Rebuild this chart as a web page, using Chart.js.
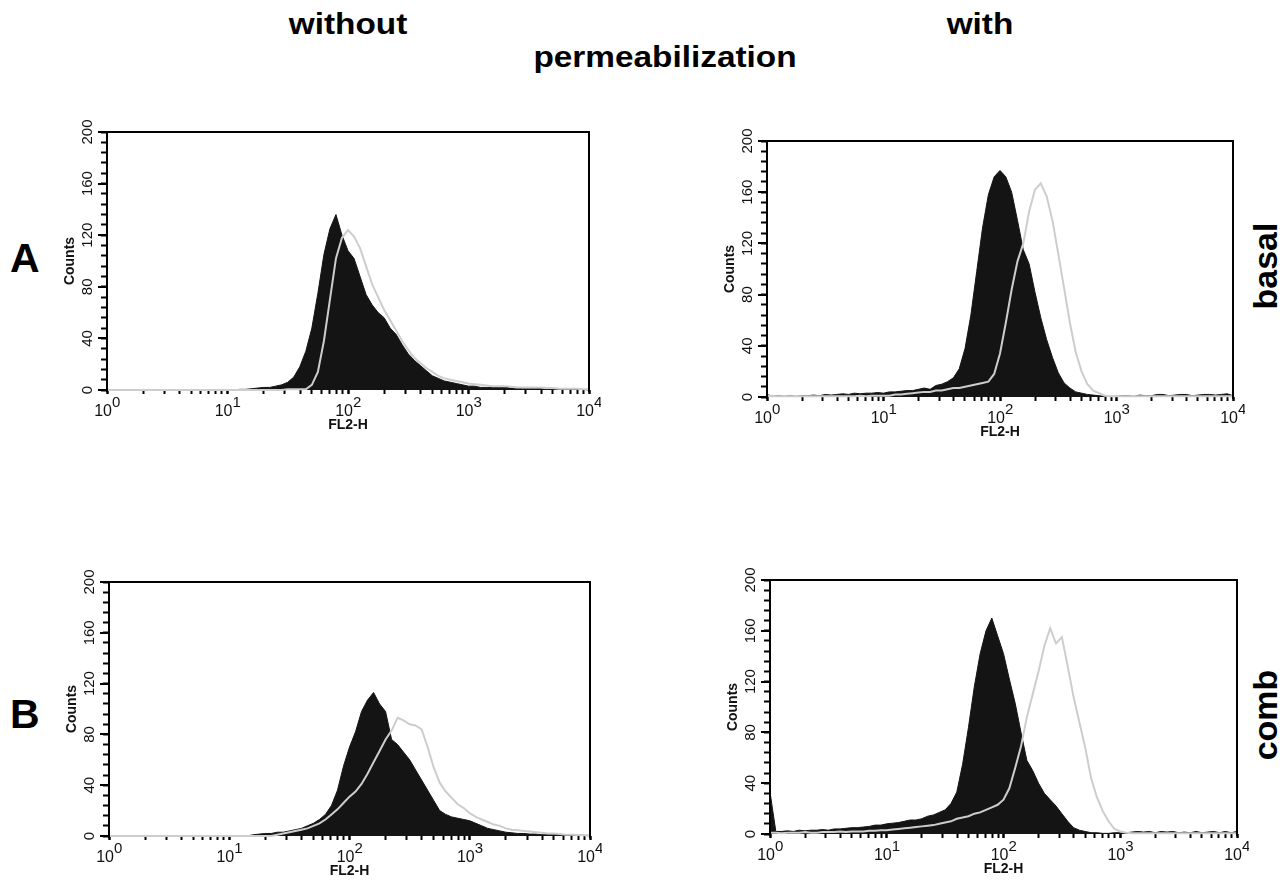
<!DOCTYPE html>
<html>
<head>
<meta charset="utf-8">
<script src="https://cdn.jsdelivr.net/npm/chart.js@4.4.1/dist/chart.umd.min.js"></script>
<style>
  body { margin: 0; background: #fff; width: 1284px; height: 880px; position: relative; overflow: hidden;
         font-family: "Liberation Sans", Arial, sans-serif; }
  .txt { position: absolute; font-weight: bold; color: #000; white-space: nowrap; line-height: 1; }
  .box { position: absolute; }
</style>
</head>
<body>

<div class="txt" style="left:348px; top:10px; font-size:29px; transform:translateX(-50%) scaleX(1.15);">without</div>
<div class="txt" style="left:980px; top:10px; font-size:29px; transform:translateX(-50%) scaleX(1.15);">with</div>
<div class="txt" style="left:665px; top:43px; font-size:29px; transform:translateX(-50%) scaleX(1.15);">permeabilization</div>
<div class="txt" style="left:10px; top:238px; font-size:41px;">A</div>
<div class="txt" style="left:10px; top:694px; font-size:41px;">B</div>
<div class="txt" style="left:1265px; top:266px; font-size:34px; transform:translate(-50%,-50%) rotate(-90deg);">basal</div>
<div class="txt" style="left:1265px; top:715px; font-size:34px; transform:translate(-50%,-50%) rotate(-90deg);">comb</div>

<div class="box" id="box-tl"><canvas id="tl"></canvas></div>
<div class="box" id="box-tr"><canvas id="tr"></canvas></div>
<div class="box" id="box-bl"><canvas id="bl"></canvas></div>
<div class="box" id="box-br"><canvas id="br"></canvas></div>

<script>
// channel positions, in decades of FL2-H (10^0 .. 10^4)
const binExp = [0,0.05,0.1,0.15,0.2,0.25,0.3,0.35,0.4,0.45,0.5,0.55,0.6,0.65,0.7,0.75,0.8,0.85,0.9,0.95,
  1,1.05,1.1,1.15,1.2,1.25,1.3,1.35,1.4,1.45,1.5,1.55,1.6,1.65,1.7,1.75,1.8,1.85,1.9,1.95,
  2,2.05,2.1,2.15,2.2,2.25,2.3,2.35,2.4,2.45,2.5,2.55,2.6,2.65,2.7,2.75,2.8,2.85,2.9,2.95,
  3,3.05,3.1,3.15,3.2,3.25,3.3,3.35,3.4,3.45,3.5,3.55,3.6,3.65,3.7,3.75,3.8,3.85,3.9,3.95,4];

const yTicks = [0, 40, 80, 120, 160, 200];

// A, without permeabilization
const tlFilled = [0,0,0,0,0,0,0,0,0,0,0,0,0,0,0,0,0,0,0,0,0,0,
  0.5,0.5,1,1.5,2,2,3,4,6,10,18,30,48,75,105,125,136,120,108,102,88,74,66,60,
  56,48,43,35,28,23,19,15,11,9,7,6,5,4,3,3,2,2,2,2,2,1.5,1.5,1,1,1,1,0.5,0.5,0.5,0.5,0.5,0.5,0.5,0];
const tlOpen = [0,0,0,0,0,0,0,0,0,0,0,0,0,0,0,0,0,0,0,0,0,0,0,0,0,0,0,0,0,0,
  0.5,0.5,0.5,0.5,
  4,14,38,70,102,118,124,119,110,96,82,72,62,54,46,38,31,25,21,17,14,11,9,8,7,6,5,4.5,4,3.5,
  3,3,3,2.5,2,2,2,2,2,1.5,1.5,1,1,1,1,0.5,0.5];

// A, with permeabilization
const trFilled = [2,0.5,1,0.5,1,0.5,1,1,1.5,1,2,1.5,2,2.5,2,3,2.5,3,3,3.5,
  3,4,4,4.5,5,5,6,7,6,9,10,12,15,22,38,64,98,132,158,172,
  177,172,160,138,115,104,82,62,45,31,19,11,7,4,3,2,1.5,1,0.5,0.5,
  0.5,1,1,0.5,1.5,1,1,2,2,1,1.5,2,2,1,1.5,2,2,1.5,2,2.5,1];
const trOpen = [1,0.5,0.5,0.5,0.5,0.5,0.5,0.5,0.5,0.5,0.5,0.5,0.5,0.5,0.5,0.5,1,0.5,1,1,
  1,1,2,2,2.5,3,3.5,4,4,5,5,6,7,7,8,9,10,11,12,18,
  34,58,84,106,120,145,162,167,157,138,112,85,58,35,20,10,5,3,1,0.5,
  0.5,0.5,0.5,0.5,0.5,0.5,0.5,0.5,0.5,0.5,0.5,0.5,0.5,0.5,0.5,0.5,0.5,0.5,0.5,0.5,0.5];

// B, without permeabilization
const blFilled = [0,0,0,0,0,0,0,0,0,0,0,0,0,0,0,0,0,0,0,0,0,0,0,0,
  1,1.5,2,2,3,3,4,5,6,8,10,13,17,24,36,55,70,82,98,107,
  113,104,98,76,72,66,60,52,44,36,28,20,17,15,14,13,12,10,8,6,
  5,4,3,2.5,2,2,1.5,1.5,1,1,1,1,1,1,1,0.5,0.5];
const blOpen = [0,0,0,0,0,0,0,0,0,0,0,0,0,0,0,0,0,0,0,0,0,0,0,0,0,0,0,0,
  1,2,3,4,5,6,8,10,13,17,21,26,31,35,41,49,58,67,76,83,
  93,91,88,87,84,70,54,42,35,30,25,22,18,15,13,11,9,8,6,5,
  4.5,4,3.5,3,2.5,2,2,1.5,1,1,0.8,0.5,0];

// B, with permeabilization
const brFilled = [33,2,2,2.5,2,3,2.5,3,3,3.5,3,4,4,4.5,5,5,5.5,6,7,7,
  8,8.5,9,10,11,11,12,14,15,17,19,24,33,55,84,116,142,160,170,156,
  142,122,103,80,58,50,40,32,27,22,16,10,5,3,2,1,1,0.5,0.5,1,
  1,1,1.5,2,1.5,2,1,2,1.5,2,1,1.5,1,2,1,1.5,2,1,2,1,2];
const brOpen = [1,1,0.5,1,1,1,1.5,1,1,1.5,1.5,1.5,2,1.5,2,2,2,2.5,2.5,3,
  3,3.5,4,4.5,5,5.5,6,6.5,7,8,9,10,12,13,14,16,17,19,21,23,
  27,36,52,69,92,110,128,148,162,150,155,132,108,88,68,44,29,18,10,4,
  2,1,0.5,0.5,0.5,0.5,0.5,0.5,0.5,0.5,0.5,0.5,0.5,0.5,0.5,0.5,0.5,0.5,0.5,0.5,0.5];

const FONT = '"Liberation Sans", Arial, sans-serif';
const PAD_L = 80, PAD_T = 12, PAD_R = 12, PAD_B = 50;

const panels = [
  { id: 'tl', left: 107, top: 132, right: 589, bottom: 390, filled: tlFilled, open: tlOpen },
  { id: 'tr', left: 767, top: 141, right: 1233, bottom: 397, filled: trFilled, open: trOpen },
  { id: 'bl', left: 109, top: 582, right: 590, bottom: 836, filled: blFilled, open: blOpen },
  { id: 'br', left: 770, top: 580, right: 1237, bottom: 834, filled: brFilled, open: brOpen }
];

function toPoints(values) {
  return values.map((v, i) => ({ x: Math.pow(10, binExp[i]), y: v }));
}

// frame (no bottom line) and the tick labels, placed through the chart's scales
const frameLabels = {
  id: 'frameLabels',
  afterDraw(chart) {
    const { ctx, chartArea: a, scales: { x, y } } = chart;
    ctx.save();
    ctx.strokeStyle = '#000';
    ctx.lineWidth = 2;
    ctx.beginPath();
    ctx.moveTo(a.left, a.bottom + 2);
    ctx.lineTo(a.left, a.top);
    ctx.lineTo(a.right, a.top);
    ctx.lineTo(a.right, a.bottom + 2);
    ctx.stroke();

    // longer marks on the labelled y ticks
    ctx.lineWidth = 2;
    yTicks.forEach(v => {
      const py = Math.round(y.getPixelForValue(v));
      ctx.beginPath();
      ctx.moveTo(a.left - 9, py);
      ctx.lineTo(a.left, py);
      ctx.stroke();
    });

    ctx.fillStyle = '#111';
    ctx.textAlign = 'center';
    ctx.textBaseline = 'middle';
    ctx.font = '15px ' + FONT;
    yTicks.forEach(v => {
      const py = y.getPixelForValue(v);
      ctx.save();
      ctx.translate(a.left - 19, py);
      ctx.rotate(-Math.PI / 2);
      ctx.fillText(String(v), 0, 0);
      ctx.restore();
    });

    ctx.textBaseline = 'alphabetic';
    x.ticks.forEach(t => {
      if (!t.major) return;
      const px = x.getPixelForValue(t.value);
      const exp = Math.round(Math.log10(t.value));
      ctx.font = '16px ' + FONT;
      ctx.textAlign = 'right';
      ctx.fillText('10', px + 5, a.bottom + 26);
      ctx.font = '15px ' + FONT;
      ctx.textAlign = 'left';
      ctx.fillText(String(exp), px + 5, a.bottom + 17);
    });
    ctx.restore();
  }
};

panels.forEach(p => {
  const w = p.right - p.left + PAD_L + PAD_R;
  const h = p.bottom - p.top + PAD_T + PAD_B;
  const box = document.getElementById('box-' + p.id);
  box.style.left = (p.left - PAD_L) + 'px';
  box.style.top = (p.top - PAD_T) + 'px';
  const cv = document.getElementById(p.id);
  cv.width = w;
  cv.height = h;

  new Chart(cv, {
    type: 'line',
    data: {
      datasets: [
        {
          label: 'open',
          data: toPoints(p.open),
          borderColor: '#cdcdcd',
          borderWidth: 2,
          pointRadius: 0,
          fill: false,
          tension: 0,
          clip: 3,
          order: 0
        },
        {
          label: 'filled',
          data: toPoints(p.filled),
          borderColor: '#141414',
          backgroundColor: '#141414',
          borderWidth: 1,
          pointRadius: 0,
          fill: 'origin',
          tension: 0,
          clip: 3,
          order: 1
        }
      ]
    },
    options: {
      responsive: false,
      animation: false,
      devicePixelRatio: 1,
      events: [],
      layout: { padding: { left: 0, top: PAD_T, right: PAD_R, bottom: 0 } },
      plugins: { legend: { display: false }, tooltip: { enabled: false } },
      scales: {
        x: {
          type: 'logarithmic',
          min: 1,
          max: 10000,
          border: { display: false },
          grid: {
            drawOnChartArea: false,
            drawTicks: true,
            tickLength: 4,
            tickColor: '#000',
            tickWidth: c => (c.tick && c.tick.major ? 2.5 : 2)
          },
          ticks: { display: false, autoSkip: false },
          afterBuildTicks: s => {
            s.ticks = s.ticks.filter(t => {
              const m = t.value / Math.pow(10, Math.floor(Math.log10(t.value) + 1e-9));
              return Math.abs(m - Math.round(m)) < 1e-6;
            });
          },
          afterFit: s => { s.height = PAD_B; },
          title: {
            display: true,
            text: 'FL2-H',
            color: '#111',
            font: { family: FONT, size: 14, weight: 'bold' },
            padding: { top: 0, bottom: 6 }
          }
        },
        y: {
          min: 0,
          max: 200,
          border: { display: false },
          grid: {
            drawOnChartArea: false,
            drawTicks: true,
            tickLength: 6,
            tickColor: '#000',
            tickWidth: 2
          },
          ticks: { display: false, stepSize: 8 },
          afterFit: s => { s.width = PAD_L; },
          title: {
            display: true,
            text: 'Counts',
            color: '#111',
            font: { family: FONT, size: 14, weight: 'bold' },
            padding: { top: 35, bottom: 0 }
          }
        }
      }
    },
    plugins: [frameLabels]
  });
});
</script>
</body>
</html>
